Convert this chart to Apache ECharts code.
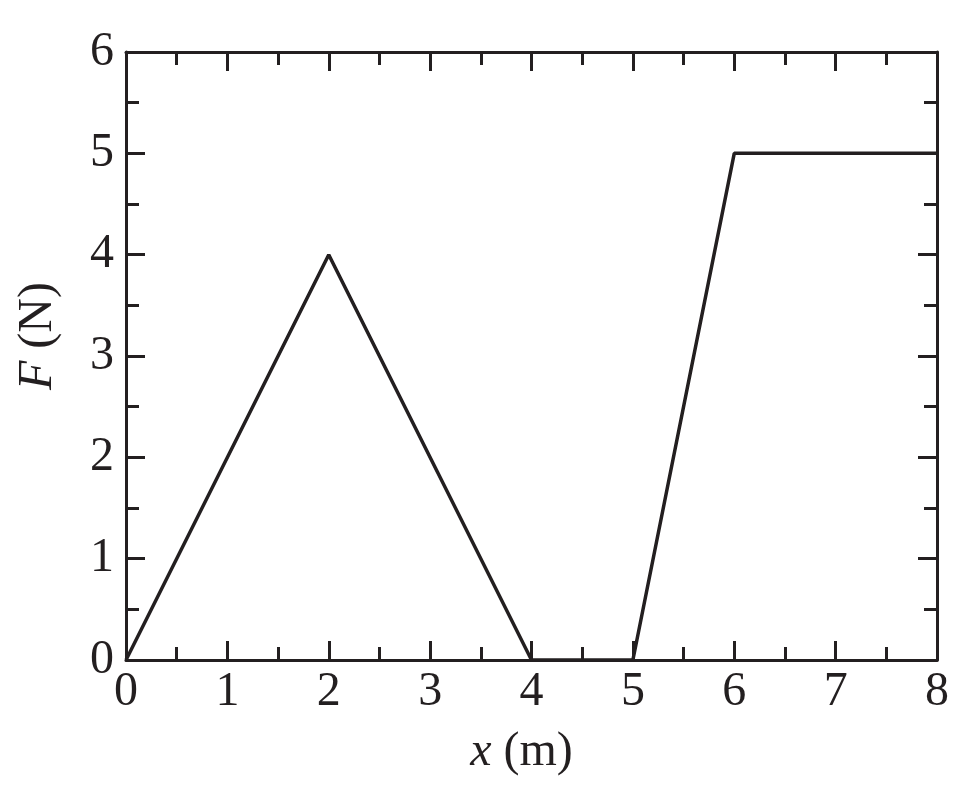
<!DOCTYPE html>
<html>
<head>
<meta charset="utf-8">
<script src="https://cdn.jsdelivr.net/npm/echarts@6/dist/echarts.min.js"></script>
<style>html,body{margin:0;padding:0;background:#fff}#c{width:978px;height:798px}</style>
</head>
<body>
<div id="c"></div>
<script>
const xValues = [0, 2, 4, 5, 6, 8];
const forceValues = [0, 4, 0, 0, 5, 5];
const xTicks = [0, 1, 2, 3, 4, 5, 6, 7, 8];
const yTicks = [0, 1, 2, 3, 4, 5, 6];

const C = '#231f20';
const FONT = '"Liberation Serif", "Times New Roman", serif';
const chart = echarts.init(document.getElementById('c'), null, {renderer: 'canvas'});

function axisBase(extra) {
  return Object.assign({
    type: 'value',
    axisLine: {show: true, onZero: false, lineStyle: {color: C, width: 3}},
    axisTick: {show: true, inside: true, length: 19, lineStyle: {color: C, width: 3}},
    minorTick: {show: true, splitNumber: 2, length: 13, lineStyle: {color: C, width: 3}},
    splitLine: {show: false},
    minorSplitLine: {show: false}
  }, extra);
}

const option = {
  backgroundColor: '#fff',
  animation: false,
  grid: {left: 126, right: 41, top: 52, bottom: 138, containLabel: false, outerBoundsMode: 'none'},
  xAxis: [
    axisBase({
      min: xTicks[0], max: xTicks[xTicks.length - 1], interval: 1,
      position: 'bottom',
      axisLabel: {color: C, fontFamily: FONT, fontSize: 48, margin: 8},
      name: '{i|x} (m)',
      nameLocation: 'middle',
      nameGap: 68,
      nameTextStyle: {color: C, fontFamily: FONT, fontSize: 48, padding: [0, 20, 0, 0],
        rich: {i: {fontStyle: 'italic', fontFamily: FONT, fontSize: 48, color: C}}}
    }),
    axisBase({
      min: xTicks[0], max: xTicks[xTicks.length - 1], interval: 1,
      position: 'top',
      axisLabel: {show: false}
    })
  ],
  yAxis: [
    axisBase({
      min: yTicks[0], max: yTicks[yTicks.length - 1], interval: 1,
      position: 'left',
      axisLabel: {color: C, fontFamily: FONT, fontSize: 48, margin: 12},
      name: '{i|F} (N)',
      nameLocation: 'middle',
      nameGap: 64,
      nameRotate: 90,
      nameTextStyle: {color: C, fontFamily: FONT, fontSize: 48, padding: [0, 0, 0, 40],
        rich: {i: {fontStyle: 'italic', fontFamily: FONT, fontSize: 48, color: C}}}
    }),
    axisBase({
      min: yTicks[0], max: yTicks[yTicks.length - 1], interval: 1,
      position: 'right',
      axisLabel: {show: false}
    })
  ],
  series: [{
    type: 'line',
    data: xValues.map((x, i) => [x, forceValues[i]]),
    symbol: 'none',
    lineStyle: {color: C, width: 3.5},
    z: 1
  }]
};
chart.setOption(option);
</script>
</body>
</html>
